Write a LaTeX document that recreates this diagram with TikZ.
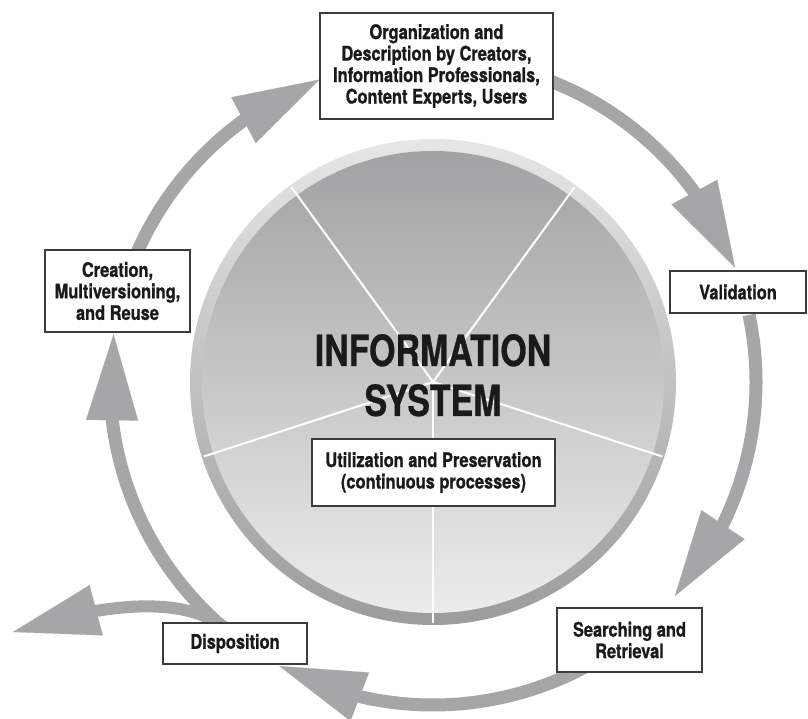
\documentclass[tikz,border=0pt]{standalone}
\usepackage{fontspec}
\setmainfont{TeX Gyre Heros}
\newfontfamily\cond{TeX Gyre Heros}[FakeStretch=0.82, BoldFeatures={FakeBold=0.9}]
\newfontfamily\condT{TeX Gyre Heros}[FakeStretch=0.79, BoldFeatures={FakeBold=0.6}]
\usetikzlibrary{arrows.meta,bending,calc}
\definecolor{arr}{HTML}{A6A6A8}
\definecolor{boxline}{HTML}{3C3C3C}
\definecolor{ink}{HTML}{1A1A1A}
\definecolor{rimtop}{HTML}{E6E6E6}
\definecolor{rimbot}{HTML}{9C9C9C}
\definecolor{disctop}{HTML}{A2A2A4}
\definecolor{discbot}{HTML}{ECECEC}
\begin{document}
\begin{tikzpicture}[x=1pt,y=1pt,
  box/.style={draw=boxline, line width=1.3pt, fill=white, align=center, text=ink,
    font=\cond\bfseries\fontsize{20}{21.5}\selectfont, inner sep=0pt},
  cyc/.style={draw=arr, line width=13pt,
    -{Triangle[length=86pt,width=52pt,line width=0.1pt]}},
  divider/.style={draw=white, line width=2pt},
  titletext/.style={text=ink, font=\condT\bfseries\fontsize{43}{50}\selectfont, inner sep=0pt, anchor=base}]
\useasboundingbox (0,0) rectangle (808,719);
\coordinate (O) at (433,337);
% disc
\shade[top color=rimtop, bottom color=rimbot] (O) circle[radius=243];
\shade[top color=disctop, bottom color=discbot] (O) circle[radius=231];
\foreach \a in {270,198,126,54,342}
  \draw[divider] (O) -- ++(\a:241);
% cycle arrows
\def\R{323}
\coordinate (s1) at ($(O)+(158:\R)$);
\coordinate (s2) at ($(O)+(69:\R)$);
\coordinate (s3) at ($(O)+(12:\R)$);
\coordinate (s4) at ($(O)+(-55:\R)$);
\coordinate (s5) at ($(O)+(-130:\R)$);
\draw[cyc] (s1) arc[start angle=158, end angle=110.6, radius=\R];
\draw[cyc] (s2) arc[start angle=69, end angle=20.7, radius=\R];
\draw[cyc] (s3) arc[start angle=12, end angle=-41.5, radius=\R];
\draw[cyc] (s4) arc[start angle=-55, end angle=-118.4, radius=\R];
\draw[cyc] (s5) arc[start angle=-130, end angle=-188.5, radius=\R];
% side (disposal) arrow
\coordinate (side0) at (225,91);
\coordinate (sideend) at (13,87);
\draw[draw=arr, line width=12pt, -{Triangle[length=86pt,width=52pt,line width=0.1pt]}]
  (side0) .. controls (190,119) and (120,122) .. (sideend);
% title
\node[titletext] (title) at (433,353) {INFORMATION};
\node[titletext] (title2) at (433,303) {SYSTEM};
% boxes
\node[box, minimum width=233, minimum height=106] (org) at (436.5,653)
  {Organization and\\Description by Creators,\\Information Professionals,\\Content Experts, Users};
\node[box, minimum width=145, minimum height=82] (create) at (117.5,428)
  {Creation,\\Multiversioning,\\and Reuse};
\node[box, minimum width=136, minimum height=42] (val) at (738,427) {Validation};
\node[box, minimum width=243, minimum height=67] (util) at (433.5,246.5)
  {Utilization and Preservation\\(continuous processes)};
\node[box, minimum width=144, minimum height=41] (disp) at (235,75.5) {Disposition};
\node[box, minimum width=145, minimum height=64] (search) at (629.5,79)
  {Searching and\\Retrieval};
\end{tikzpicture}
\end{document}
